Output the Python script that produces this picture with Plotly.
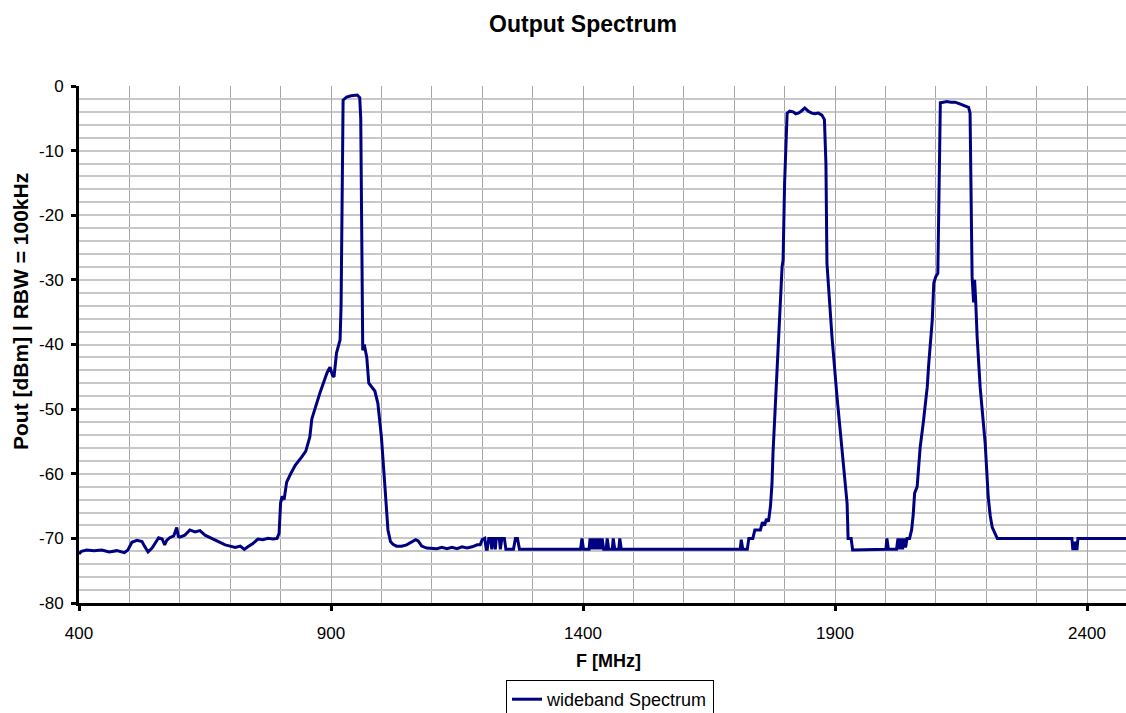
import plotly.graph_objects as go

# ---- data ----
freq_mhz = [
    400, 405, 415, 430, 445, 460, 475, 490, 497, 505, 515, 525, 530, 537, 545, 552, 558, 565, 570, 574,
    580, 588, 594, 597, 600, 610, 620, 630, 640, 650, 660, 670, 680, 690, 700, 710, 720, 728, 735, 745,
    755, 765, 775, 785, 793, 797,
    800, 803, 807, 812, 820, 829, 842, 850, 858, 862, 868, 878, 892, 898, 903, 906, 911, 916, 918, 920,
    922, 924, 931, 940, 952, 957, 959, 961, 963, 966, 971, 975, 980, 987, 993, 1000, 1007, 1013, 1018,
    1023, 1030, 1040, 1050, 1060, 1068, 1073, 1080, 1090, 1100, 1110, 1120, 1130, 1140, 1150, 1160,
    1170, 1180, 1190, 1196, 1200, 1205, 1208,
    1210, 1213, 1217, 1219, 1221, 1224, 1226, 1228, 1234, 1236, 1239, 1244, 1247, 1262, 1266, 1270, 1274,
    1395, 1398, 1401, 1412, 1414, 1417, 1420, 1423, 1426, 1429, 1432, 1435, 1438, 1441, 1446, 1448, 1451,
    1458, 1460, 1463, 1471, 1473, 1476,
    1712, 1714, 1717, 1726, 1729, 1737, 1741, 1752, 1756, 1760, 1764, 1768, 1772, 1775, 1777, 1781, 1785,
    1791, 1795, 1797, 1800, 1805, 1810, 1817, 1822, 1827, 1833, 1840, 1847, 1854, 1860, 1867, 1874, 1879,
    1882, 1884, 1894, 1904, 1914, 1924, 1926, 1932, 1935,
    2001, 2003, 2006, 2022, 2025, 2028, 2031, 2034, 2037, 2040, 2043, 2048, 2052, 2055, 2058, 2063, 2069,
    2075, 2083, 2086, 2093, 2096, 2100, 2104, 2106, 2109, 2115, 2122, 2130, 2138, 2145, 2152, 2160, 2165,
    2168, 2170, 2172, 2175, 2177, 2179, 2182, 2188, 2195, 2198, 2204, 2208, 2212, 2218, 2222,
    2370, 2372, 2374, 2376, 2378, 2380, 2382, 2500,
]
pout_dbm = [
    -72.4, -72.0, -71.8, -71.9, -71.8, -72.1, -71.9, -72.2, -71.8, -70.6, -70.3, -70.5, -71.2, -72.1, -71.5, -70.6, -69.9, -70.1, -71.0, -70.3,
    -69.9, -69.6, -68.3, -69.7, -69.8, -69.5, -68.7, -69.0, -68.8, -69.5, -69.9, -70.2, -70.6, -71.0, -71.2, -71.4, -71.2, -71.7, -71.3, -70.8,
    -70.1, -70.2, -70.0, -70.1, -70.0, -69.2,
    -64.5, -63.5, -64.0, -61.3, -60.0, -58.7, -57.4, -56.5, -54.3, -51.5, -50.0, -47.5, -44.4, -43.5, -44.8, -45.0, -41.3, -40.0, -39.3, -34.0,
    -20.0, -2.2, -1.7, -1.5, -1.4, -1.8, -5.0, -30.5, -40.9, -40.0, -42.0, -46.0, -46.5, -47.2, -49.1, -54.3, -62.0, -68.7, -70.5,
    -70.9, -71.2, -71.2, -71.0, -70.6, -70.2, -70.4, -71.2, -71.5, -71.6, -71.6, -71.4, -71.6, -71.4, -71.6, -71.3,
    -71.5, -71.3, -71.0, -71.0, -70.2, -70.0, -71.7,
    -71.7, -70.0, -70.0, -71.7, -70.0, -70.0, -71.7, -70.0, -70.0, -71.7, -70.0, -70.0, -71.7, -71.7, -70.0, -70.0, -71.7,
    -71.7, -70.0, -71.7, -71.7, -70.0, -71.7, -70.0, -71.7, -70.0, -71.7, -70.0, -71.7, -70.0, -71.7, -71.7, -70.0, -71.7,
    -71.7, -70.0, -71.7, -71.7, -70.0, -71.7,
    -71.7, -70.2, -71.7, -71.7, -70.0, -70.0, -68.7, -68.7, -67.5, -68.0, -67.0, -67.4, -65.0, -61.5, -56.8, -50.0, -42.9,
    -33.1, -28.0, -26.9, -15.0, -4.2, -3.9, -4.0, -4.3, -4.2, -3.9, -3.4, -3.9, -4.2, -4.3, -4.2, -4.5, -5.2,
    -12.0, -27.4, -38.8, -48.1, -56.8, -64.6, -70.0, -70.0, -71.8,
    -71.7, -70.0, -71.7, -71.7, -70.0, -71.7, -70.0, -71.7, -70.0, -71.4, -70.0, -70.0, -68.7, -66.5, -63.0, -62.0, -55.9,
    -52.2, -46.6, -43.0, -36.2, -30.5, -29.5, -29.0, -15.0, -2.6, -2.5, -2.4, -2.5, -2.5, -2.7, -2.9, -3.1, -3.3,
    -4.2, -15.0, -29.5, -33.5, -30.0, -33.0, -38.8, -46.6, -52.0, -55.3, -63.6, -66.5, -68.3, -69.3, -70.0,
    -70.0, -71.8, -70.5, -71.8, -70.5, -71.8, -70.0, -70.0,
]
series_name = "wideband Spectrum"
chart_title = "Output Spectrum"
x_title = "F [MHz]"
y_title = "Pout [dBm] | RBW = 100kHz"
x_tick_values = [400, 900, 1400, 1900, 2400]
y_tick_values = [0, -10, -20, -30, -40, -50, -60, -70, -80]

FONT = "Liberation Sans, Arial, sans-serif"
W, H = 1126, 713
L, T, B = 79, 86, 110
PW, PH = W - L, H - T - B  # plot area size in px
X_MAX = 400 + PW / 0.504   # 0.504 px per MHz as in the reference (axis runs past the right edge)

fig = go.Figure()
fig.add_trace(go.Scatter(
    x=freq_mhz, y=pout_dbm, mode="lines", name=series_name,
    line=dict(color="#000080", width=3), showlegend=True,
))

fig.update_layout(
    width=W, height=H,
    margin=dict(l=L, r=0, t=T, b=B, autoexpand=False),
    paper_bgcolor="white", plot_bgcolor="white",
    font=dict(family=FONT, size=17, color="black"),
    title=dict(text="<b>" + chart_title + "</b>", font=dict(size=23, family=FONT, color="black"),
               x=583 / W, xanchor="center", xref="container",
               y=1 - 24 / H, yanchor="middle", yref="container"),
    showlegend=True,
    legend=dict(xref="container", yref="container",
                x=506 / W, y=1 - 680 / H, xanchor="left", yanchor="top",
                orientation="h", bordercolor="black", borderwidth=1, bgcolor="white",
                font=dict(size=18, family=FONT, color="black")),
)

fig.update_xaxes(
    range=[400, X_MAX], tickmode="array", tickvals=x_tick_values,
    ticktext=[str(v) for v in x_tick_values],
    showline=True, linecolor="black", linewidth=3,
    ticks="outside", ticklen=5, tickwidth=3, tickcolor="black", ticklabelstandoff=8,
    showgrid=True, gridcolor="#a6a6a6", gridwidth=1, zeroline=False,
    minor=dict(tickmode="linear", tick0=400, dtick=100, showgrid=True, gridcolor="#a6a6a6", gridwidth=1, ticks=""),
    tickfont=dict(size=17, family=FONT, color="black"),
)
fig.update_yaxes(
    range=[-80, 0], tickmode="array", tickvals=y_tick_values,
    ticktext=[str(v) for v in y_tick_values],
    showline=True, linecolor="black", linewidth=3,
    ticks="outside", ticklen=5, tickwidth=3, tickcolor="black", ticklabelstandoff=4,
    showgrid=True, gridcolor="#c8c8c8", gridwidth=1.5, zeroline=False,
    minor=dict(tickmode="linear", tick0=0, dtick=2, showgrid=True, gridcolor="#c8c8c8", gridwidth=1.5, ticks=""),
    tickfont=dict(size=17, family=FONT, color="black"),
)

fig.add_annotation(text="<b>" + x_title + "</b>", xref="paper", yref="paper",
                   x=(608 - L) / PW, y=(T + PH - 661) / PH, xanchor="center", yanchor="middle",
                   showarrow=False, font=dict(size=18, family=FONT, color="black"))
fig.add_annotation(text="<b>" + y_title + "</b>", xref="paper", yref="paper",
                   x=(20 - L) / PW, y=(T + PH - 312) / PH, xanchor="center", yanchor="middle",
                   textangle=-90, showarrow=False, font=dict(size=21, family=FONT, color="black"))

fig.write_html(
    "out.html",
    config={"displayModeBar": False},
    post_script="document.body.style.margin='0';document.body.style.overflow='hidden';",
)
